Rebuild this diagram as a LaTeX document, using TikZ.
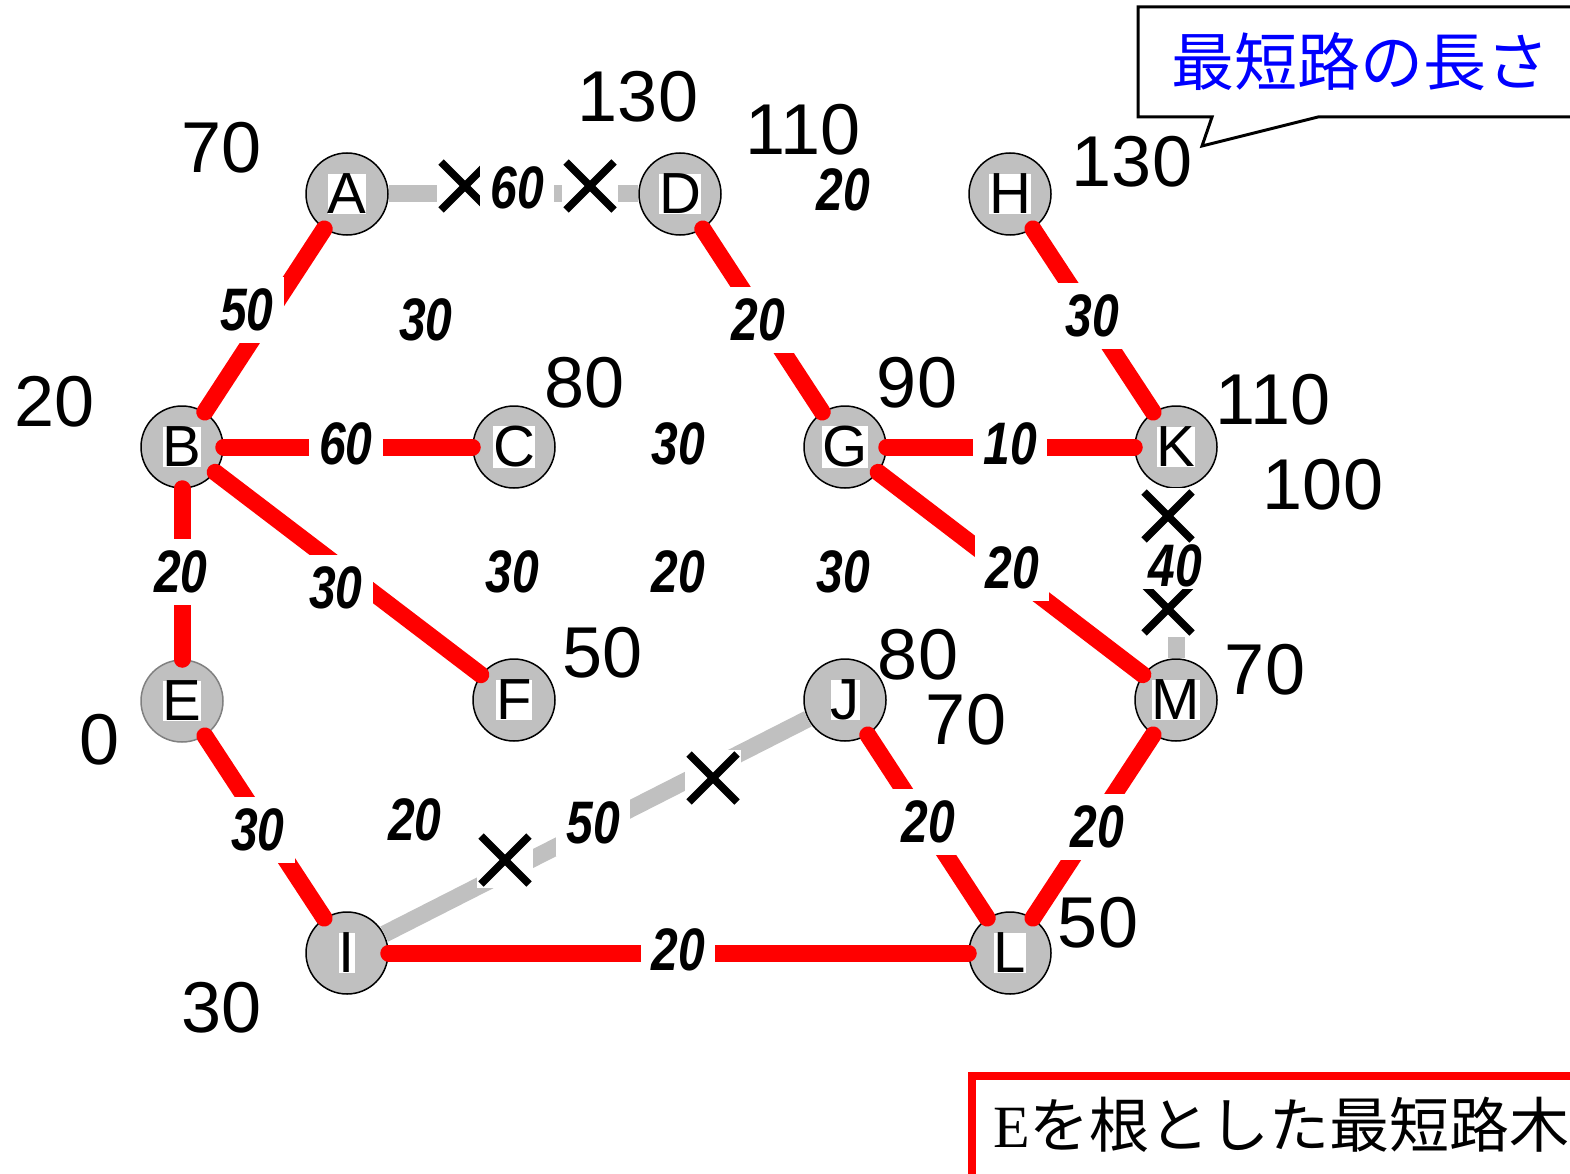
\documentclass[tikz,border=0pt]{standalone}
\usepackage{fontspec}
\setmainfont{Liberation Sans}
\newfontfamily\wfont[FakeStretch=0.8]{Liberation Sans}
\newfontfamily\cjk{Noto Sans CJK JP}
\newfontfamily\serifE{Liberation Serif}
\definecolor{ngray}{RGB}{192,192,192}
\definecolor{cblue}{RGB}{0,0,255}
\setlength{\fboxsep}{0pt}
\begin{document}
\begin{tikzpicture}[x=1pt,y=-1pt,
  vtx/.style={circle, draw=black, line width=1.5pt, fill=ngray, minimum size=82pt, inner sep=0pt, font=\fontsize{58}{58}\selectfont},
  redge/.style={line width=17pt, red, line cap=round},
  gedge/.style={line width=17pt, ngray},
  wlab/.style={fill=white, inner xsep=10pt, inner ysep=12pt, font=\wfont\bfseries\itshape\fontsize{60}{60}\selectfont},
  dist/.style={inner sep=0pt, font=\fontsize{72}{72}\selectfont},
  xm/.style={fill=white, minimum size=56pt, inner sep=0pt,
    path picture={
      \draw[line width=7.5pt] ([shift={(4pt,4pt)}]path picture bounding box.south west) -- ([shift={(-4pt,-4pt)}]path picture bounding box.north east);
      \draw[line width=7.5pt] ([shift={(4pt,-4pt)}]path picture bounding box.north west) -- ([shift={(-4pt,4pt)}]path picture bounding box.south east);}}
]
\useasboundingbox (0,0) rectangle (1570,1174);
\clip (0,0) rectangle (1570,1174);
\fill[white] (0,0) rectangle (1570,1174);

% vertices
\node[vtx] (A) at (347,194) {\colorbox{white}{A}};
\node[vtx] (D) at (680,194) {\colorbox{white}{D}};
\node[vtx] (H) at (1010,194) {\colorbox{white}{H}};
\node[vtx] (B) at (182,447) {\colorbox{white}{B}};
\node[vtx] (C) at (514,447) {\colorbox{white}{C}};
\node[vtx] (G) at (845,447) {\colorbox{white}{G}};
\node[vtx] (K) at (1176,447) {\colorbox{white}{K}};
\node[vtx, draw=gray] (E) at (182,701) {\colorbox{white}{E}};
\node[vtx] (F) at (514,700) {\colorbox{white}{F}};
\node[vtx] (J) at (845,700) {\colorbox{white}{J}};
\node[vtx] (M) at (1176,700) {\colorbox{white}{M}};
\node[vtx] (I) at (347,953) {\colorbox{white}{I}};
\node[vtx] (L) at (1010,953) {\colorbox{white}{L}};

% removed (gray) edges
\draw[gedge] (A) -- (D);
\draw[gedge] (I) -- (J);
\draw[gedge] (K) -- (M);

% shortest path tree (red)
\draw[redge] (A) -- (B);
\draw[redge] (D) -- (G);
\draw[redge] (H) -- (K);
\draw[redge] (B) -- (C);
\draw[redge] (G) -- (K);
\draw[redge] (B) -- (E);
\draw[redge] (B) -- (F);
\draw[redge] (G) -- (M);
\draw[redge] (E) -- (I);
\draw[redge] (J) -- (L);
\draw[redge] (M) -- (L);
\draw[redge] (I) -- (L);

% X marks
\node[xm] (x1) at (465,186) {};
\node[xm] (x2) at (590,186) {};
\node[xm] (x3) at (1168,516) {};
\node[xm] (x4) at (1168,609) {};
\node[xm] (x5) at (505,860) {};
\node[xm] (x6) at (713,778) {};

% edge weights
\node[wlab] (wAD) at (517,188) {60};
\node[wlab] (wAB) at (247,310) {50};
\node[wlab] (w1) at (426,320) {30};
\node[wlab] (wDG) at (758,320) {20};
\node[wlab] (w2) at (843,190) {20};
\node[wlab] (wHK) at (1092,316) {30};
\node[wlab] (wBC) at (346,444) {60};
\node[wlab] (w3) at (678,444) {30};
\node[wlab] (wGK) at (1010,444) {10};
\node[wlab] (wBE) at (181,572) {20};
\node[wlab] (wBF) at (336,588) {30};
\node[wlab] (w4) at (512,572) {30};
\node[wlab] (w5) at (678,572) {20};
\node[wlab] (w6) at (843,572) {30};
\node[wlab] (wGM) at (1012,568) {20};
\node[wlab, inner ysep=2pt] (wKM) at (1175,566) {40};
\node[wlab] (wEI) at (258,830) {30};
\node[wlab] (w7) at (415,820) {20};
\node[wlab] (wIJ) at (593,823) {50};
\node[wlab] (wJL) at (928,822) {20};
\node[wlab] (wML) at (1097,827) {20};
\node[wlab] (wIL) at (678,950) {20};

% distances
\node[dist] (dA) at (222,148) {70};
\node[dist] (dD1) at (638,97) {130};
\node[dist] (dD2) at (803,130) {110};
\node[dist] (dH) at (1132,162) {130};
\node[dist] (dB) at (55,402) {20};
\node[dist] (dC) at (585,383) {80};
\node[dist] (dG) at (917,383) {90};
\node[dist] (dK1) at (1273,400) {110};
\node[dist] (dK2) at (1323,485) {100};
\node[dist] (dF) at (603,653) {50};
\node[dist] (dJ1) at (918,655) {80};
\node[dist] (dJ2) at (966,720) {70};
\node[dist] (dM) at (1265,670) {70};
\node[dist] (dE) at (100,740) {0};
\node[dist] (dL) at (1098,923) {50};
\node[dist] (dI) at (222,1008) {30};

% callout
\draw[line width=3pt, fill=white] (1138,7) -- (1620,7) -- (1620,117) -- (1318,117) -- (1202,146) -- (1212,117) -- (1138,117) -- cycle;
\node[inner sep=0pt, text=cblue, font=\cjk\fontsize{63}{63}\selectfont] (callout) at (1360,62) {最短路の長さ};

% caption box
\draw[red, line width=8pt, fill=white] (972,1076) rectangle (1640,1260);
\node[inner sep=0pt, anchor=west, font=\cjk\fontsize{60}{60}\selectfont] (caption) at (993,1125) {{\serifE E}を根とした最短路木};
\end{tikzpicture}
\end{document}
